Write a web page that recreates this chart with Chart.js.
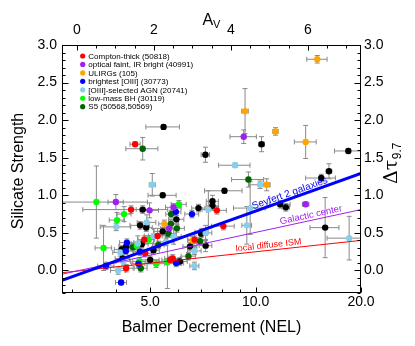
<!DOCTYPE html>
<html><head><meta charset="utf-8">
<script src="https://cdn.jsdelivr.net/npm/chart.js@4.4.0/dist/chart.umd.min.js"></script>
<style>html,body{margin:0;padding:0;background:#fff}</style>
</head><body>
<canvas id="c" width="415" height="346"></canvas>
<script>
// ---------- DATA ----------
const xTicks = [3,4,5,6,7,8,9,10,20];
const xTickLabels = [5,10,20];
const yTicks = [0,0.5,1,1.5,2,2.5,3];
const avTicks = [0,2,4,6];

// Compton-thick (red)
const ctBD   = [4.53,4.41,7.75,8.09,5.25,4.81,4.84,4.27,5.8,5.7,6.7];
const ctSil  = [1.68,0.81,0.80,0.59,0.46,0.41,0.23,0.03,0.16,0.14,0.41];
const ctBDe  = [0.15,1.2,0.5,0.6,0.3,0.2,0.2,0.2,0.3,0.3,0.3];
const ctSile = [0.03,0.05,0.05,0.05,0.1,0.05,0.05,0.05,0.05,0.05,0.05];
// optical faint, IR bright (purple)
const ofBD   = [9.25,3.99,4.98,5.83,13.9,5.66];
const ofSil  = [1.78,0.91,0.80,0.84,0.88,0.56];
const ofBDe  = [0.8,0.2,0.3,0.3,0.3,0.3];
const ofSile = [0.09,0.1,0.1,0.05,0.03,0.05];
// ULIRGs (orange)
const ulBD   = [15.0,9.33,11.4,13.9,10.76,5.49,6.6];
const ulSil  = [2.81,2.12,1.85,1.71,1.14,0.62,0.40];
const ulBDe  = [1.0,0.2,0.2,1.0,0.2,0.2,0.2];
const ulSile = [0.05,0.3,0.05,0.22,0.08,0.05,0.05];
// brightest [OIII] (blue)
const boBD   = [5.92,6.58,4.29,4.26,3.74,4.63,4.68,5.93,4.13];
const boSil  = [0.78,0.75,0.37,0.26,0.06,0.09,0.25,0.10,-0.16];
const boBDe  = [0.2,0.3,0.2,0.2,0.2,0.2,0.2,0.3,0.15];
const boSile = [0.05,0.05,0.05,0.05,0.05,0.05,0.05,0.05,0.03];
// [OIII]-selected AGN (light blue)
const osBD   = [8.74,10.3,7.33,9.65,9.44,18.5,7.2,5.07,4.0,4.89,5.11,5.83,4.61,4.11,5.55,4.19,4.05,6.69,6.69];
const osSil  = [1.40,1.14,0.81,0.83,0.60,0.43,0.50,1.14,0.58,0.64,0.46,0.45,0.36,0.24,0.38,0.12,0.00,0.06,0.26];
const osBDe  = [0.9,0.7,0.3,1.0,0.3,2.5,0.3,0.1,0.4,0.3,0.3,0.3,0.2,0.2,0.3,0.2,0.2,0.2,0.3];
const osSile = [0.03,0.05,0.25,0.35,0.25,0.29,0.1,0.15,0.05,0.1,0.1,0.1,0.1,0.05,0.05,0.05,0.05,0.05,0.05];
// low-mass BH (lime)
const lmBD   = [3.51,4.21,6.04,4.02,4.95,4.58,3.68,4.66,5.2,5.6];
const lmSil  = [0.91,0.75,0.88,0.67,0.41,0.33,0.30,0.12,0.09,0.11];
const lmBDe  = [1.4,0.2,0.3,0.2,0.2,0.2,0.2,0.2,0.3,0.3];
const lmSile = [0.48,0.1,0.05,0.1,0.05,0.05,0.3,0.05,0.05,0.35];
// S5 (dark green)
const s5BD   = [9.54,6.94,4.76,5.74,5.73,5.96,5.64,4.46,5.28,4.70,6.43];
const s5Sil  = [1.21,0.39,1.62,0.75,0.62,0.56,0.49,0.31,0.34,0.03,0.19];
const s5BDe  = [1.0,0.3,0.5,0.2,0.3,0.3,0.3,0.2,0.2,0.2,0.3];
const s5Sile = [0.1,0.05,0.15,0.05,0.05,0.05,0.05,0.05,0.05,0.05,0.05];
// other sources (black)
const otBD   = [10.4,7.19,18.4,16.2,15.4,8.15,7.53,7.53,11.75,12.2,15.8,7.02,7.2,5.46,5.43,4.76,6.87,5.94,4.68,4.87,6.99,5.43,4.27,4.15,4.73,5.11,4.17,5.0,6.08,6.5];
const otSil  = [1.68,1.54,1.59,1.32,1.23,1.06,0.92,0.86,0.88,0.84,0.57,0.51,0.33,1.91,1.00,0.81,0.83,0.68,0.60,0.57,0.49,0.52,0.32,0.28,0.35,0.27,0.16,0.14,0.12,0.32];
const otBDe  = [0.2,0.2,1.6,0.3,1.5,1.0,0.3,0.3,0.8,0.3,1.5,0.3,0.3,0.6,0.5,0.2,0.3,0.3,0.3,0.2,0.3,0.3,0.2,0.2,0.2,0.2,0.2,0.3,0.3,0.3];
const otSile = [0.1,0.1,0.03,0.1,0.05,0.03,0.08,0.05,0.05,0.05,0.4,0.05,0.08,0.03,0.03,0.05,0.05,0.05,0.05,0.05,0.05,0.05,0.05,0.05,0.05,0.05,0.05,0.05,0.05,0.05];

// reference relations (Balmer decrement endpoints, silicate strength)
const relBD = [2.8, 20];
const sy2Sil = [-0.13, 1.29];
const gcSil  = [-0.05, 0.81];
const ismSil = [-0.03, 0.40];

// ---------- BUILD ----------
const FONT = '"Liberation Sans", Arial, Helvetica, sans-serif';
const groups = [
  {label:'Compton-thick (50818)', color:'#ff0000', bd:ctBD, s:ctSil, ex:ctBDe, ey:ctSile},
  {label:'optical faint, IR bright (40991)', color:'#a020f0', bd:ofBD, s:ofSil, ex:ofBDe, ey:ofSile},
  {label:'ULIRGs (105)', color:'#ffa500', bd:ulBD, s:ulSil, ex:ulBDe, ey:ulSile},
  {label:'brightest [OIII] (30773)', color:'#0000ff', bd:boBD, s:boSil, ex:boBDe, ey:boSile},
  {label:'[OIII]-selected AGN (20741)', color:'#87ceeb', bd:osBD, s:osSil, ex:osBDe, ey:osSile},
  {label:'low-mass BH (30119)', color:'#00ff00', bd:lmBD, s:lmSil, ex:lmBDe, ey:lmSile},
  {label:'S5 (50568,50569)', color:'#006400', bd:s5BD, s:s5Sil, ex:s5BDe, ey:s5Sile},
];
const other = {label:'other', color:'#000000', bd:otBD, s:otSil, ex:otBDe, ey:otSile};

const rels = [
  {label:'Seyfert 2 galaxies', color:'#0000ff', w:3, s:sy2Sil, at:12.67, font:10},
  {label:'Galactic center', color:'#a020f0', w:1, s:gcSil, at:14.5, font:9.5},
  {label:'local diffuse ISM', color:'#ff0000', w:1, s:ismSil, at:10.93, font:9},
];

const datasets = [];
rels.forEach(r => datasets.push({
  type:'line', label:r.label, data: relBD.map((b,i)=>({x:b, y:r.s[i]})),
  borderColor:r.color, borderWidth:r.w, pointRadius:0, fill:false, tension:0
}));
groups.concat([other]).forEach(g => datasets.push({
  type:'scatter', label:g.label, data: g.bd.map((b,i)=>({x:b, y:g.s[i]})),
  errX:g.ex, errY:g.ey, backgroundColor:g.color, pointBackgroundColor:g.color,
  pointBorderWidth:0, borderWidth:0, pointRadius:3.2
}));

function setTicks(vals){ return s => { s.ticks = vals.map(v=>({value:v})); }; }

const custom = {
  id:'custom',
  beforeDatasetsDraw(chart){
    const {ctx, chartArea:a} = chart, x = chart.scales.x, y = chart.scales.y;
    ctx.save();
    ctx.beginPath(); ctx.rect(a.left,a.top,a.right-a.left,a.bottom-a.top); ctx.clip();
    ctx.strokeStyle = '#8a8a8a'; ctx.lineWidth = 1;
    chart.data.datasets.forEach(ds => {
      if (!ds.errX) return;
      ds.data.forEach((p,i) => {
        const px = x.getPixelForValue(p.x), py = y.getPixelForValue(p.y);
        const x0 = x.getPixelForValue(Math.max(p.x-ds.errX[i], 0.3)), x1 = x.getPixelForValue(p.x+ds.errX[i]);
        const y0 = y.getPixelForValue(p.y-ds.errY[i]), y1 = y.getPixelForValue(p.y+ds.errY[i]);
        const c = 2.5;
        ctx.beginPath();
        ctx.moveTo(x0,py); ctx.lineTo(x1,py);
        ctx.moveTo(x0,py-c); ctx.lineTo(x0,py+c);
        ctx.moveTo(x1,py-c); ctx.lineTo(x1,py+c);
        ctx.moveTo(px,y0); ctx.lineTo(px,y1);
        ctx.moveTo(px-c,y0); ctx.lineTo(px+c,y0);
        ctx.moveTo(px-c,y1); ctx.lineTo(px+c,y1);
        ctx.stroke();
      });
    });
    ctx.restore();
  },
  afterDraw(chart){
    const {ctx, chartArea:a} = chart, sc = chart.scales;
    ctx.save();
    // relation labels
    ctx.save();
    ctx.beginPath(); ctx.rect(a.left,a.top,a.right-a.left,a.bottom-a.top); ctx.clip();
    rels.forEach(r => {
      const p0x = sc.x.getPixelForValue(relBD[0]), p1x = sc.x.getPixelForValue(relBD[1]);
      const p0y = sc.y.getPixelForValue(r.s[0]), p1y = sc.y.getPixelForValue(r.s[1]);
      const cx = sc.x.getPixelForValue(r.at);
      const t = (cx-p0x)/(p1x-p0x);
      const cy = p0y + t*(p1y-p0y);
      const ang = Math.atan2(p1y-p0y, p1x-p0x);
      ctx.save();
      ctx.translate(cx, cy); ctx.rotate(ang);
      ctx.fillStyle = r.color; ctx.font = r.font+'px '+FONT;
      ctx.textAlign='center'; ctx.textBaseline='alphabetic';
      ctx.fillText(r.label, 0, -2.5);
      ctx.restore();
    });
    ctx.restore();
    // frame
    ctx.strokeStyle='#000'; ctx.lineWidth=1;
    ctx.strokeRect(Math.round(a.left)+0.5, Math.round(a.top)+0.5, Math.round(a.right-a.left)-1, Math.round(a.bottom-a.top)-1);
    // inward ticks
    ctx.beginPath();
    const L=a.left+0.5, R=a.right-0.5, T=a.top+0.5, B=a.bottom-0.5;
    xTicks.forEach(v => {
      const px = Math.round(sc.x.getPixelForValue(v))+0.5;
      const len = xTickLabels.includes(v) ? 5 : 3;
      ctx.moveTo(px,B); ctx.lineTo(px,B-len);
    });
    for (let i=0;i<=16;i++){
      const v = -0.5 + i*0.5;
      const px = Math.round(sc.x2.getPixelForValue(v))+0.5;
      if (px < a.left || px > a.right) continue;
      const len = (Math.abs(v%2)<1e-6) ? 5 : 3;
      ctx.moveTo(px,T); ctx.lineTo(px,T+len);
    }
    for (let i=-3;i<=30;i++){
      const v = i/10;
      const py = Math.round(sc.y.getPixelForValue(v))+0.5;
      const len = (i%5===0) ? 6 : 3;
      ctx.moveTo(L,py); ctx.lineTo(L+len,py);
      ctx.moveTo(R,py); ctx.lineTo(R-len,py);
    }
    ctx.stroke();
    // axis titles
    ctx.fillStyle='#000';
    ctx.font='16px '+FONT; ctx.textAlign='center'; ctx.textBaseline='middle';
    ctx.fillText('Balmer Decrement (NEL)', (a.left+a.right)/2, 328);
    ctx.save(); ctx.translate(19, 171); ctx.rotate(-Math.PI/2);
    ctx.fillText('Silicate Strength', 0, 0); ctx.restore();
    // A_V
    ctx.textAlign='left'; ctx.textBaseline='alphabetic';
    ctx.font='16px '+FONT; ctx.fillText('A', 202.5, 24.5);
    ctx.font='11px '+FONT; ctx.fillText('V', 213, 27.5);
    // Delta tau 9.7
    ctx.save(); ctx.translate(397, 184); ctx.rotate(-Math.PI/2);
    ctx.font='19px "DejaVu Serif", serif'; ctx.fillText('Δτ', 0, 0);
    const w = ctx.measureText('Δτ').width;
    ctx.font='12px '+FONT; ctx.fillText('9.7', w+0.5, 4);
    ctx.restore();
    // legend
    groups.forEach((g,i) => {
      const yy = 56 + i*8.45;
      ctx.fillStyle = g.color;
      ctx.beginPath(); ctx.arc(82.7, yy, 2.6, 0, Math.PI*2); ctx.fill();
      ctx.fillStyle = '#000'; ctx.font='8px '+FONT; ctx.textAlign='left'; ctx.textBaseline='middle';
      ctx.fillText(g.label, 88.3, yy+0.5);
    });
    ctx.restore();
  }
};

const tickFont = {family: FONT, size: 14};
new Chart(document.getElementById('c'), {
  data: {datasets},
  options: {
    responsive:false, animation:false, devicePixelRatio:1,
    layout:{padding:0},
    plugins:{legend:{display:false}, tooltip:{enabled:false}},
    scales:{
      x:{type:'logarithmic', position:'bottom', min:2.8, max:20,
        grid:{display:false, drawTicks:false}, border:{display:false},
        afterBuildTicks:setTicks(xTicks),
        afterFit:s=>{s.height=53;},
        ticks:{font:tickFont, color:'#000', padding:1, autoSkip:false, maxRotation:0,
          callback:v => xTickLabels.includes(v) ? v.toFixed(1) : ''}},
      x2:{type:'linear', position:'top', min:-0.39, max:7.38,
        grid:{display:false, drawTicks:false}, border:{display:false},
        afterBuildTicks:setTicks(avTicks),
        afterFit:s=>{s.height=45;},
        ticks:{font:tickFont, color:'#000', padding:6, autoSkip:false, maxRotation:0,
          callback:v => String(v)}},
      y:{type:'linear', position:'left', min:-0.3, max:3.0,
        grid:{display:false, drawTicks:false}, border:{display:false},
        afterBuildTicks:setTicks(yTicks),
        afterFit:s=>{s.width=62;},
        ticks:{font:tickFont, color:'#000', padding:5, autoSkip:false,
          callback:v => Number(v).toFixed(1)}},
      y2:{type:'linear', position:'right', min:-0.3, max:3.0,
        grid:{display:false, drawTicks:false}, border:{display:false},
        afterBuildTicks:setTicks(yTicks),
        afterFit:s=>{s.width=54;},
        ticks:{font:tickFont, color:'#000', padding:3, autoSkip:false,
          callback:v => Number(v).toFixed(1)}}
    }
  },
  plugins:[custom]
});
</script>
</body></html>
